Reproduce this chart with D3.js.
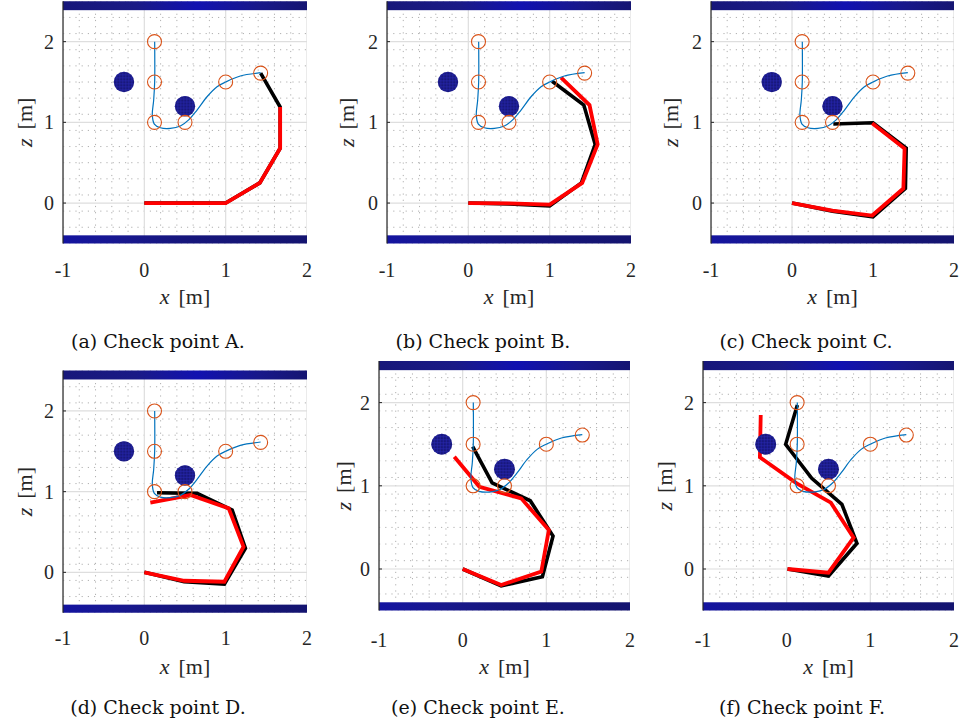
<!DOCTYPE html>
<html><head><meta charset="utf-8">
<script src="https://cdn.jsdelivr.net/npm/d3@7"></script>
<style>body{margin:0;background:#fff}svg{display:block}</style>
</head><body>
<svg id="fig" width="964" height="728"></svg>
<script>
// ---- axis settings ----
const xDomain = [-1, 2];
const zDomain = [-0.5, 2.5];
const xTicks = [-1, 0, 1, 2];
const zTicks = [0, 1, 2];
const minorStep = 0.2;

// ---- environment ----
const ceilingZ = [2.39, 2.5];
const floorZ = [-0.5, -0.4];
const obstacleX = [-0.25, 0.5];
const obstacleZ = [1.5, 1.2];
const obstacleRadius = 0.125;

// ---- waypoints and reference path ----
const waypointX = [0.125, 0.125, 0.125, 0.5, 1.0, 1.43];
const waypointZ = [2.0, 1.5, 1.0, 1.0, 1.5, 1.61];
const refPathX = [0.127, 0.127, 0.115, 0.098, 0.123, 0.197, 0.32, 0.443, 0.545, 0.648, 0.771, 0.894, 1.0, 1.18, 1.43];
const refPathZ = [2.0, 1.5, 1.276, 1.09, 0.979, 0.933, 0.925, 0.954, 1.03, 1.152, 1.317, 1.441, 1.5, 1.574, 1.615];

// ---- arm configurations at each check point: [x, z] joints ----
const redA = [[0,0],[0.5,0],[1.0,0],[1.42,0.25],[1.67,0.68],[1.67,1.19]];
const blackA = [[0,0],[0.5,0],[1.0,0],[1.42,0.25],[1.67,0.68],[1.67,1.19],[1.43,1.61]];
const redB = [[0,0],[0.5,-0.005],[1.0,-0.02],[1.40,0.25],[1.59,0.727],[1.49,1.214],[1.14,1.553]];
const blackB = [[0,0],[0.5,-0.01],[1.0,-0.035],[1.39,0.25],[1.56,0.727],[1.42,1.214],[1.03,1.51]];
const redC = [[0,0],[0.5,-0.095],[0.99,-0.155],[1.375,0.18],[1.39,0.675],[0.99,0.99]];
const blackC = [[0,0],[0.5,-0.1],[1.0,-0.17],[1.40,0.18],[1.41,0.68],[1.0,0.995],[0.51,0.98]];
const redD = [[0,0],[0.49,-0.104],[0.984,-0.116],[1.22,0.317],[1.037,0.793],[0.566,0.958],[0.074,0.863]];
const blackD = [[0,0],[0.49,-0.116],[0.984,-0.145],[1.243,0.297],[1.08,0.772],[0.648,0.979],[0.156,0.987]];
const redE = [[0,0],[0.46,-0.192],[0.94,-0.032],[1.03,0.469],[0.70,0.849],[0.20,0.989],[-0.10,1.35]];
const blackE = [[0,0],[0.46,-0.204],[0.953,-0.092],[1.08,0.397],[0.808,0.82],[0.352,1.036],[0.12,1.47]];
const redF = [[0.01,0],[0.50,-0.044],[0.80,0.376],[0.528,0.797],[0.12,1.03],[-0.32,1.343],[-0.31,1.85]];
const blackF = [[0.01,0],[0.5,-0.084],[0.84,0.309],[0.66,0.777],[0.30,1.09],[-0.012,1.499],[0.128,1.97]];

const captions = ["(a) Check point A.", "(b) Check point B.", "(c) Check point C.",
                  "(d) Check point D.", "(e) Check point E.", "(f) Check point F."];
const redArms = [redA, redB, redC, redD, redE, redF];
const blackArms = [blackA, blackB, blackC, blackD, blackE, blackF];

// ---- panel placement on the page ----
const boxes = [
  {left: 63,  right: 307, top: 1.3, bottom: 243.4, tickBase: 277, labelBase: 304, capX: 158, capBase: 348, zOff: 31},
  {left: 387, right: 631, top: 1.3, bottom: 243.4, tickBase: 277, labelBase: 304, capX: 483, capBase: 348, zOff: 33},
  {left: 711, right: 954, top: 1.3, bottom: 243.4, tickBase: 277, labelBase: 304, capX: 806, capBase: 348, zOff: 33},
  {left: 63,  right: 307, top: 370.6, bottom: 612.7, tickBase: 645, labelBase: 674, capX: 158, capBase: 714, zOff: 31},
  {left: 379, right: 630, top: 361, bottom: 610.6, tickBase: 647, labelBase: 674, capX: 478, capBase: 714, zOff: 28},
  {left: 703, right: 954, top: 361, bottom: 610.6, tickBase: 647, labelBase: 674, capX: 802, capBase: 714, zOff: 31}
];

const svg = d3.select("#fig");
const defs = svg.append("defs");

// band shading: dark navy with a brighter blue sheen
const gTop = defs.append("linearGradient").attr("id", "bandTop").attr("x1", 0).attr("x2", 1).attr("y1", 0).attr("y2", 0);
gTop.append("stop").attr("offset", "0%").attr("stop-color", "#17177a");
gTop.append("stop").attr("offset", "30%").attr("stop-color", "#1a1a86");
gTop.append("stop").attr("offset", "55%").attr("stop-color", "#1111b0");
gTop.append("stop").attr("offset", "80%").attr("stop-color", "#18188a");
gTop.append("stop").attr("offset", "100%").attr("stop-color", "#151572");
const gBot = defs.append("linearGradient").attr("id", "bandBot").attr("x1", 0).attr("x2", 1).attr("y1", 0).attr("y2", 0);
gBot.append("stop").attr("offset", "0%").attr("stop-color", "#1414a0");
gBot.append("stop").attr("offset", "25%").attr("stop-color", "#18188e");
gBot.append("stop").attr("offset", "50%").attr("stop-color", "#16167c");
gBot.append("stop").attr("offset", "100%").attr("stop-color", "#141470");

const serif = "'Liberation Serif', 'Times New Roman', serif";
const capFont = "'DejaVu Serif', serif";

boxes.forEach((b, i) => {
  const x = d3.scaleLinear().domain(xDomain).range([b.left, b.right]);
  const z = d3.scaleLinear().domain(zDomain).range([b.bottom, b.top]);
  const g = svg.append("g");

  const clipId = "clip" + i;
  defs.append("clipPath").attr("id", clipId).append("rect")
    .attr("x", b.left).attr("y", b.top).attr("width", b.right - b.left).attr("height", b.bottom - b.top);
  const plot = g.append("g").attr("clip-path", `url(#${clipId})`);

  // minor dotted grid
  const minorX = d3.range(xDomain[0], xDomain[1] + 1e-9, minorStep).filter(v => Math.abs(v - Math.round(v)) > 1e-6);
  const minorZ = d3.range(zDomain[0], zDomain[1] + 1e-9, minorStep).map(v => +v.toFixed(2)).filter(v => Math.abs(v - Math.round(v)) > 1e-6);
  plot.selectAll(".mx").data(minorX).join("line")
    .attr("x1", d => x(d)).attr("x2", d => x(d)).attr("y1", b.top).attr("y2", b.bottom)
    .attr("stroke", "#b0b0b0").attr("stroke-width", 1).attr("stroke-dasharray", "1.2,5");
  plot.selectAll(".mz").data(minorZ).join("line")
    .attr("y1", d => z(d)).attr("y2", d => z(d)).attr("x1", b.left).attr("x2", b.right)
    .attr("stroke", "#b0b0b0").attr("stroke-width", 1).attr("stroke-dasharray", "1.2,5");
  // major grid
  plot.selectAll(".gx").data(xTicks).join("line")
    .attr("x1", d => x(d)).attr("x2", d => x(d)).attr("y1", b.top).attr("y2", b.bottom)
    .attr("stroke", "#dedede").attr("stroke-width", 1.2);
  plot.selectAll(".gz").data(zTicks).join("line")
    .attr("y1", d => z(d)).attr("y2", d => z(d)).attr("x1", b.left).attr("x2", b.right)
    .attr("stroke", "#dedede").attr("stroke-width", 1.2);

  // ceiling and floor
  plot.append("rect").attr("x", b.left).attr("width", b.right - b.left)
    .attr("y", z(ceilingZ[1] + 0.1)).attr("height", z(ceilingZ[0]) - z(ceilingZ[1] + 0.1))
    .attr("fill", "url(#bandTop)");
  plot.append("rect").attr("x", b.left).attr("width", b.right - b.left)
    .attr("y", z(floorZ[1])).attr("height", z(floorZ[0] - 0.05) - z(floorZ[1]))
    .attr("fill", "url(#bandBot)");

  // arms: black configuration under the red one
  const line = d3.line().x(d => x(d[0])).y(d => z(d[1]));
  plot.append("path").attr("d", line(blackArms[i])).attr("fill", "none")
    .attr("stroke", "#000").attr("stroke-width", 3.6).attr("stroke-linejoin", "miter");
  plot.append("path").attr("d", line(redArms[i])).attr("fill", "none")
    .attr("stroke", "#ff0000").attr("stroke-width", 3.8).attr("stroke-linejoin", "miter");

  // spherical obstacles with a mesh pattern
  obstacleX.forEach((ox, k) => {
    const cx = x(ox), cy = z(obstacleZ[k]);
    const r = x(obstacleRadius) - x(0);
    const oc = "obs" + i + "_" + k;
    defs.append("clipPath").attr("id", oc).append("circle").attr("cx", cx).attr("cy", cy).attr("r", r);
    plot.append("circle").attr("cx", cx).attr("cy", cy).attr("r", r).attr("fill", "#18187c");
    const mesh = plot.append("g").attr("clip-path", `url(#${oc})`);
    d3.range(-r, r, 3).forEach(o => {
      mesh.append("line").attr("x1", cx - r).attr("x2", cx + r).attr("y1", cy + o).attr("y2", cy + o)
        .attr("stroke", "#2a2ab4").attr("stroke-width", 0.6);
      mesh.append("line").attr("y1", cy - r).attr("y2", cy + r).attr("x1", cx + o).attr("x2", cx + o)
        .attr("stroke", "#2a2ab4").attr("stroke-width", 0.6);
    });
  });

  // reference path and waypoints
  const ref = d3.range(refPathX.length).map(k => [refPathX[k], refPathZ[k]]);
  plot.append("path").attr("d", d3.line().x(d => x(d[0])).y(d => z(d[1])).curve(d3.curveCatmullRom)(ref))
    .attr("fill", "none").attr("stroke", "#0072bd").attr("stroke-width", 1.2);
  plot.selectAll(".wp").data(d3.range(waypointX.length)).join("circle")
    .attr("cx", k => x(waypointX[k])).attr("cy", k => z(waypointZ[k])).attr("r", 7)
    .attr("fill", "none").attr("stroke", "#d95319").attr("stroke-width", 1.1);

  // left axis line with inward ticks
  g.append("line").attr("x1", b.left).attr("x2", b.left).attr("y1", b.top).attr("y2", b.bottom)
    .attr("stroke", "#262626").attr("stroke-width", 1.2);
  g.selectAll(".tk").data(zTicks).join("line")
    .attr("x1", b.left).attr("x2", b.left + 3).attr("y1", d => z(d)).attr("y2", d => z(d))
    .attr("stroke", "#262626").attr("stroke-width", 1);

  // tick labels
  g.selectAll(".xl").data(xTicks).join("text")
    .attr("x", d => x(d)).attr("y", b.tickBase).attr("text-anchor", "middle")
    .attr("font-family", serif).attr("font-size", 20).attr("fill", "#262626").text(d => d);
  g.selectAll(".zl").data(zTicks).join("text")
    .attr("x", b.left - 9).attr("y", d => z(d) + 7).attr("text-anchor", "end")
    .attr("font-family", serif).attr("font-size", 20).attr("fill", "#262626").text(d => d);

  // axis titles
  const xt = g.append("text").attr("x", (b.left + b.right) / 2).attr("y", b.labelBase)
    .attr("text-anchor", "middle").attr("font-family", serif).attr("font-size", 22).attr("fill", "#262626");
  xt.append("tspan").attr("font-style", "italic").text("x");
  xt.append("tspan").attr("dx", 9).text("[m]");
  const zx = b.left - b.zOff, zy = (b.top + b.bottom) / 2;
  const zt = g.append("text").attr("transform", `translate(${zx},${zy}) rotate(-90)`)
    .attr("text-anchor", "middle").attr("font-family", serif).attr("font-size", 22).attr("fill", "#262626");
  zt.append("tspan").attr("font-style", "italic").text("z");
  zt.append("tspan").attr("dx", 9).text("[m]");

  // caption
  g.append("text").attr("x", b.capX).attr("y", b.capBase).attr("text-anchor", "middle")
    .attr("font-family", capFont).attr("font-size", 19).attr("fill", "#111").text(captions[i]);
});
</script>
</body></html>
